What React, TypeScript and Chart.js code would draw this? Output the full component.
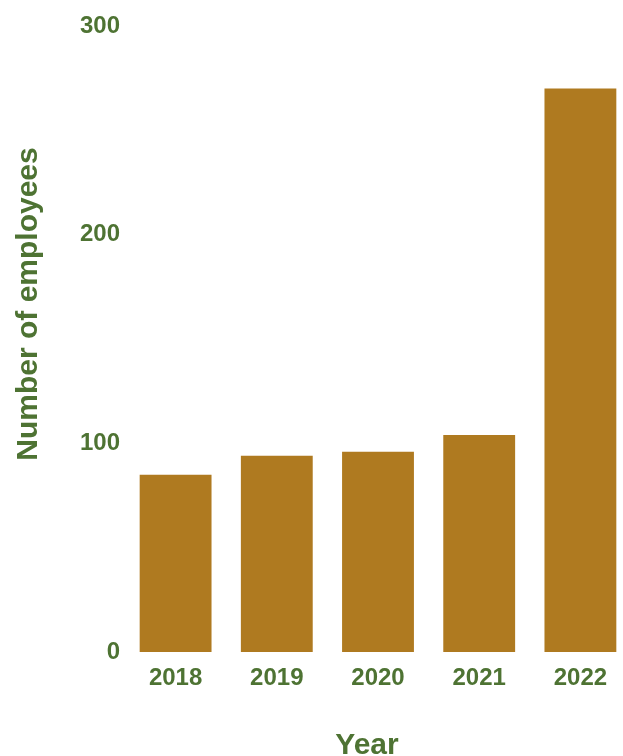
import React, { useEffect, useRef } from "react";
import { Chart, registerables } from "chart.js";

Chart.register(...registerables);

const years: string[] = ["2018", "2019", "2020", "2021", "2022"];
const employees: number[] = [85, 94, 96, 104, 270];
const yTitle = "Number of employees";
const xTitle = "Year";

const GREEN = "#4E7333";
const BAR = "#AF7A20";
const FONT = "'Liberation Sans', Arial, sans-serif";

const titlePlugin = {
  id: "customTitles",
  afterDraw(chart: any) {
    const ctx = chart.ctx as CanvasRenderingContext2D;
    ctx.save();
    ctx.fillStyle = GREEN;
    ctx.font = `bold 30px ${FONT}`;
    ctx.textAlign = "center";
    ctx.textBaseline = "alphabetic";
    ctx.fillText(xTitle, 367, 754);
    ctx.translate(37, 304);
    ctx.rotate(-Math.PI / 2);
    ctx.fillText(yTitle, 0, 0);
    ctx.restore();
  },
};

export default function App() {
  const ref = useRef<HTMLCanvasElement | null>(null);
  useEffect(() => {
    document.body.style.overflow = "hidden";
    if (!ref.current) return;
    const chart = new Chart(ref.current, {
      type: "bar",
      data: {
        labels: years,
        datasets: [
          {
            data: employees,
            backgroundColor: BAR,
            borderWidth: 0,
            barPercentage: 0.71,
            categoryPercentage: 1,
          },
        ],
      },
      plugins: [titlePlugin],
      options: {
        animation: false,
        responsive: false,
        maintainAspectRatio: false,
        layout: { padding: { left: 0, right: 9, top: 26, bottom: 0 } },
        plugins: { legend: { display: false }, tooltip: { enabled: false }, title: { display: false } },
        scales: {
          x: {
            grid: { display: false, drawTicks: false },
            border: { display: false },
            ticks: { color: GREEN, font: { family: FONT, size: 24, weight: "bold" }, padding: 12 },
            afterFit(scale: any) {
              scale.height = 104;
            },
          },
          y: {
            min: 0,
            max: 300,
            grid: { display: false, drawTicks: false },
            border: { display: false },
            ticks: { stepSize: 100, color: GREEN, font: { family: FONT, size: 24, weight: "bold" }, padding: 5 },
            afterFit(scale: any) {
              scale.width = 125;
            },
          },
        },
      },
    });
    return () => chart.destroy();
  }, []);
  return (
    <div style={{ position: "absolute", left: 0, top: 0, width: 640, height: 756 }}>
      <canvas ref={ref} width={640} height={756} style={{ width: 640, height: 756 }} />
    </div>
  );
}
